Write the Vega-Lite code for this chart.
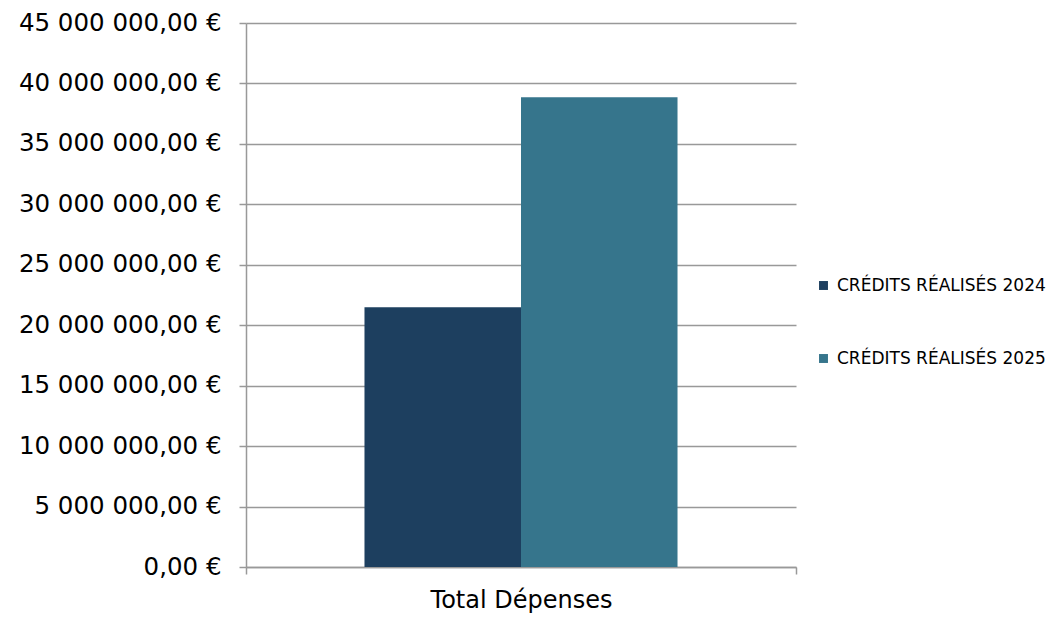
{
  "$schema": "https://vega.github.io/schema/vega-lite/v6.json",
  "autosize": {"type": "none"},
  "width": 550,
  "height": 544,
  "padding": {"left": 246, "top": 23, "right": 255, "bottom": 50},
  "background": "white",
  "config": {
    "view": {"stroke": null},
    "font": "DejaVu Sans",
    "locale": {
      "number": {"decimal": ",", "thousands": " ", "grouping": [3], "currency": ["", " €"]}
    }
  },
  "data": {
    "values": [
      {"categorie": "Total Dépenses", "serie": "CRÉDITS RÉALISÉS 2024", "montant": 21480000},
      {"categorie": "Total Dépenses", "serie": "CRÉDITS RÉALISÉS 2025", "montant": 38850000}
    ]
  },
  "mark": {"type": "bar"},
  "encoding": {
    "x": {
      "field": "categorie",
      "type": "nominal",
      "scale": {"paddingInner": 0, "paddingOuter": 0},
      "axis": {
        "title": null,
        "labelAngle": 0,
        "labelFontSize": 24,
        "labelColor": "#000000",
        "labelPadding": 14,
        "labelLimit": 0,
        "tickBand": "extent",
        "tickSize": 7,
        "tickColor": "#999999",
        "tickWidth": 1.5,
        "domainColor": "#999999",
        "domainWidth": 1.5,
        "grid": false
      }
    },
    "xOffset": {
      "field": "serie",
      "type": "nominal",
      "scale": {"paddingInner": 0, "paddingOuter": 0.757}
    },
    "y": {
      "field": "montant",
      "type": "quantitative",
      "scale": {"domain": [0, 45000000], "nice": false},
      "axis": {
        "title": null,
        "values": [0, 5000000, 10000000, 15000000, 20000000, 25000000, 30000000, 35000000, 40000000, 45000000],
        "format": ",.2f",
        "labelExpr": "datum.label + ' €'",
        "labelFontSize": 24.5,
        "labelColor": "#000000",
        "labelPadding": 18,
        "labelLimit": 0,
        "tickSize": 7,
        "tickColor": "#999999",
        "tickWidth": 1.5,
        "domainColor": "#999999",
        "domainWidth": 1.5,
        "gridColor": "#999999",
        "gridWidth": 1.5
      }
    },
    "color": {
      "field": "serie",
      "type": "nominal",
      "scale": {"domain": ["CRÉDITS RÉALISÉS 2024", "CRÉDITS RÉALISÉS 2025"], "range": ["#1d3f5f", "#36758c"]},
      "legend": {
        "title": null,
        "orient": "none",
        "legendX": 569,
        "legendY": 254,
        "symbolType": "square",
        "symbolSize": 80,
        "symbolStrokeWidth": 0,
        "labelFontSize": 17,
        "labelColor": "#000000",
        "labelOffset": 5,
        "labelLimit": 0,
        "rowPadding": 55,
        "padding": 0
      }
    }
  }
}
